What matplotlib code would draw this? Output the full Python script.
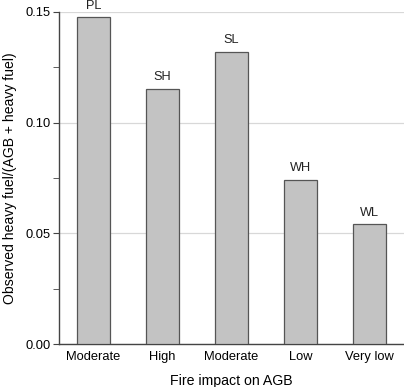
import matplotlib
matplotlib.use("Agg")
import matplotlib.pyplot as plt
from matplotlib.ticker import MultipleLocator

plt.rcParams['font.family'] = ['Liberation Sans', 'DejaVu Sans']

categories = ["Moderate", "High", "Moderate", "Low", "Very low"]
bar_labels = ["PL", "SH", "SL", "WH", "WL"]
values = [0.1477, 0.1152, 0.1320, 0.0741, 0.0542]

fig = plt.figure(figsize=(4.04, 3.87), dpi=100)
ax = fig.add_axes([0.146, 0.111, 0.854, 0.858])

x = list(range(len(categories)))
bars = ax.bar(x, values, width=0.49, color="#c3c3c3", edgecolor="#555555",
              linewidth=0.9, zorder=3)
for xi, v, lab in zip(x, values, bar_labels):
    ax.annotate(lab, (xi, v), xytext=(0, 4), textcoords="offset points",
                ha="center", va="bottom", fontsize=9.2, color="#222222",
                annotation_clip=False)

ax.set_xlim(-0.5, 4.5)
ax.set_ylim(0, 0.15)
ax.yaxis.set_major_locator(MultipleLocator(0.05))
ax.yaxis.set_minor_locator(MultipleLocator(0.025))
ax.set_yticks([0, 0.05, 0.10, 0.15])
ax.set_yticklabels(["0.00", "0.05", "0.10", "0.15"])
ax.set_xticks(x)
ax.set_xticklabels(categories)
ax.grid(axis="y", which="major", color="#d8d8d8", linewidth=0.9, zorder=0)
ax.set_axisbelow(True)

for s in ["top", "right"]:
    ax.spines[s].set_visible(False)
for s in ["left", "bottom"]:
    ax.spines[s].set_color("#444444")
    ax.spines[s].set_linewidth(1.0)

ax.tick_params(axis="y", which="major", length=4, color="#444444", labelsize=9.3, pad=2)
ax.tick_params(axis="y", which="minor", length=4, color="#444444")
ax.tick_params(axis="x", length=0, labelsize=9.3, pad=5)

ax.set_xlabel("Fire impact on AGB", fontsize=10.2, labelpad=8)
ax.set_ylabel("Observed heavy fuel/(AGB + heavy fuel)", fontsize=10.1)
ax.yaxis.set_label_coords(-0.122, 0.5)

fig.savefig("out.png", dpi=100)
